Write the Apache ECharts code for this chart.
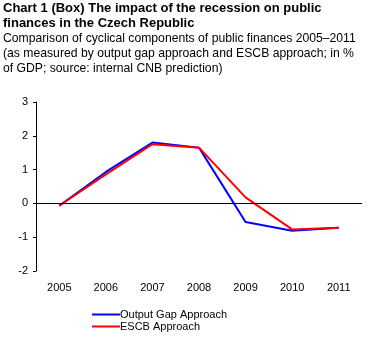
<!DOCTYPE html>
<html><head><meta charset="utf-8">
<script src="https://cdn.jsdelivr.net/npm/echarts@6/dist/echarts.min.js"></script>
<style>html,body{margin:0;padding:0;background:#fff}#c{width:385px;height:341px}</style>
</head><body><div id="c"></div>
<script>
const categories = ['2005','2006','2007','2008','2009','2010','2011'];
const outputGap = [-0.07, 0.93, 1.80, 1.65, -0.55, -0.81, -0.72];
const escb = [-0.07, 0.86, 1.75, 1.65, 0.18, -0.77, -0.72];
const yTicks = [-2, -1, 0, 1, 2, 3];
const seriesNames = ['Output Gap Approach', 'ESCB Approach'];
const titleText = 'Chart 1 (Box) The impact of the recession on public\nfinances in the Czech Republic';
const subText = 'Comparison of cyclical components of public finances 2005\u20132011\n(as measured by output gap approach and ESCB approach; in %\nof GDP; source: internal CNB prediction)';

const chart = echarts.init(document.getElementById('c'), null, {renderer:'canvas'});
const font = 'Liberation Sans, Arial, sans-serif';
function legendFor(name, top){
  return {
    show:true, orient:'horizontal', left:92, top:top, padding:0,
    itemWidth:28, itemHeight:2, itemGap:0,
    textStyle:{fontFamily:font, fontSize:11, color:'#000', padding:[0,0,0,-5]},
    data:[{name:name, icon:'rect'}]
  };
}
chart.setOption({
  animation:false,
  backgroundColor:'#fff',
  title:{
    text:titleText, subtext:subText, left:3, top:1, padding:0, itemGap:0,
    textStyle:{fontFamily:font, fontSize:13, fontWeight:'bold', color:'#000', lineHeight:15},
    subtextStyle:{fontFamily:font, fontSize:12.2, color:'#000', lineHeight:15}
  },
  grid:{left:36, right:23, top:102, bottom:70, containLabel:false},
  legend:[legendFor(seriesNames[0], 309), legendFor(seriesNames[1], 321)],
  xAxis:{
    type:'category', data:categories, boundaryGap:true,
    axisLine:{show:false}, axisTick:{show:false},
    axisLabel:{fontFamily:font, fontSize:11, color:'#000', margin:11}
  },
  yAxis:{
    type:'value', min:yTicks[0], max:yTicks[yTicks.length-1], interval:1,
    axisLine:{show:true, lineStyle:{color:'#000', width:1}},
    axisTick:{show:true, inside:false, length:3, lineStyle:{color:'#000'}},
    axisLabel:{fontFamily:font, fontSize:11, color:'#000', margin:8},
    splitLine:{show:false}
  },
  series:[
    {name:seriesNames[0], type:'line', data:outputGap, symbol:'none',
     lineStyle:{color:'#0000FF', width:2}, itemStyle:{color:'#0000FF'},
     markLine:{silent:true, symbol:'none', label:{show:false},
       lineStyle:{color:'#000', width:1, type:'solid'}, data:[{yAxis:0}]}},
    {name:seriesNames[1], type:'line', data:escb, symbol:'none',
     lineStyle:{color:'#FF0000', width:2}, itemStyle:{color:'#FF0000'}}
  ]
});
</script></body></html>
